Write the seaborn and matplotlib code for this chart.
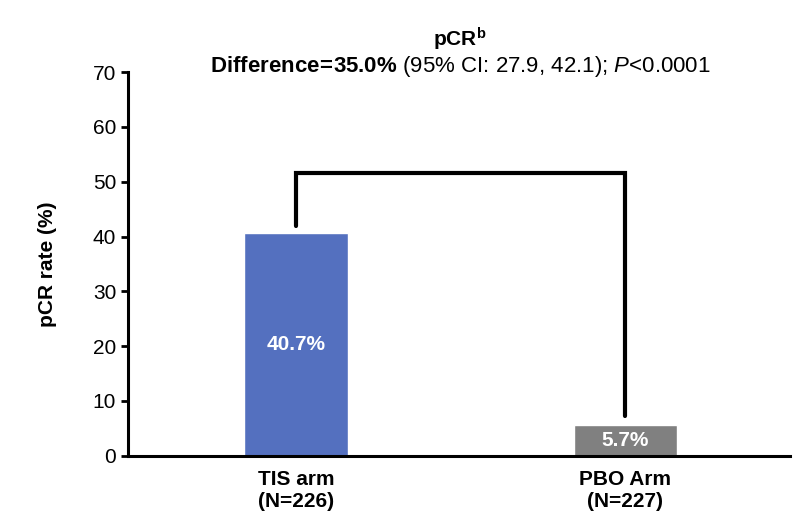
import pandas as pd
import matplotlib.pyplot as plt
import seaborn as sns

# data
arms = ['TIS arm\n(N=226)', 'PBO Arm\n(N=227)']
rates = [40.7, 5.7]
bar_labels = ['40.7%', '5.7%']
bar_colors = ['#5470bf', '#808080']
# bracket: left leg top, bar height, right leg bottom
bracket_y = [42.0, 51.6, 51.6, 7.3]

sns.set_style('white')
plt.rcParams['font.family'] = ['Liberation Sans', 'DejaVu Sans']
plt.rcParams['text.color'] = 'black'
plt.rcParams['axes.labelcolor'] = 'black'
plt.rcParams['xtick.color'] = 'black'
plt.rcParams['ytick.color'] = 'black'
plt.rcParams['mathtext.fontset'] = 'custom'
plt.rcParams['mathtext.rm'] = 'Liberation Sans'
plt.rcParams['mathtext.bf'] = 'Liberation Sans:bold'
plt.rcParams['mathtext.it'] = 'Liberation Sans:italic'

df = pd.DataFrame({'arm': arms, 'rate': rates})

fig = plt.figure(figsize=(8, 5.3), dpi=100)
ax = fig.add_axes([0.16, 0.14, 0.8275, 0.724])
sns.barplot(data=df, x='arm', y='rate', hue='arm', palette=bar_colors,
            width=0.313, saturation=1, legend=False, ax=ax)

# value labels inside bars
ax.text(0, rates[0] / 2, bar_labels[0], ha='center', va='center',
        color='white', fontsize=15, fontweight='bold')
ax.text(1, rates[1] / 2, bar_labels[1], ha='center', va='center',
        color='white', fontsize=15, fontweight='bold')

# significance bracket
ax.plot([0, 0, 1, 1], bracket_y, color='black', lw=3, solid_joinstyle='miter')

ax.set_ylim(0, 70)
ax.set_xlim(-0.51, 1.5)
ax.set_yticks(range(0, 71, 10))
ax.tick_params(axis='y', direction='out', length=5, width=2, labelsize=15, left=True)
ax.tick_params(axis='x', length=0, labelsize=15, pad=10)
for lab in ax.get_xticklabels():
    lab.set_fontweight('bold')
ax.set_xlabel('')
ax.set_ylabel('pCR rate (%)', fontsize=15, fontweight='bold', labelpad=26)
for s in ['top', 'right']:
    ax.spines[s].set_visible(False)
for s in ['left', 'bottom']:
    ax.spines[s].set_linewidth(2.2)
    ax.spines[s].set_color('black')

fig.text(0.575, 0.925, r'pCR$^{\mathbf{b}}$', ha='center', va='center',
         fontsize=15, fontweight='bold')
fig.text(0.575, 0.875,
         r'$\mathbf{Difference\!=\!35.0\%}$ (95% CI: 27.9, 42.1); $\mathit{P}$<0.0001',
         ha='center', va='center', fontsize=16)

fig.savefig('out.png', dpi=100)
